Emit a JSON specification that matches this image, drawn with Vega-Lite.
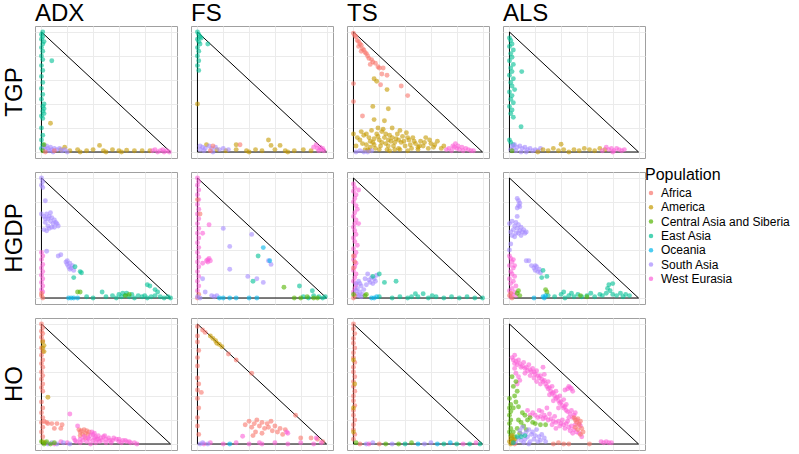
{
"$schema": "https://vega.github.io/schema/vega-lite/v6.json",
"padding": {"left": 2, "top": 2, "right": 0, "bottom": 0},
"background": "white",
"datasets": {"pops": [
{"p":"AF","Population":"Africa"},{"p":"AM","Population":"America"},{"p":"CA","Population":"Central Asia and Siberia"},{"p":"EA","Population":"East Asia"},{"p":"OC","Population":"Oceania"},{"p":"SA","Population":"South Asia"},{"p":"WE","Population":"West Eurasia"}]},
"data": {"values": [
{"c":"ADX","r":"TGP","t":1,"x":0,"y":0,"x2":1,"y2":0},{"c":"ADX","r":"TGP","t":1,"x":0,"y":0,"x2":0,"y2":1},{"c":"ADX","r":"TGP","t":1,"x":1,"y":0,"x2":0,"y2":1},
{"c":"FS","r":"TGP","t":1,"x":0,"y":0,"x2":1,"y2":0},{"c":"FS","r":"TGP","t":1,"x":0,"y":0,"x2":0,"y2":1},{"c":"FS","r":"TGP","t":1,"x":1,"y":0,"x2":0,"y2":1},
{"c":"TS","r":"TGP","t":1,"x":0,"y":0,"x2":1,"y2":0},{"c":"TS","r":"TGP","t":1,"x":0,"y":0,"x2":0,"y2":1},{"c":"TS","r":"TGP","t":1,"x":1,"y":0,"x2":0,"y2":1},
{"c":"ALS","r":"TGP","t":1,"x":0,"y":0,"x2":1,"y2":0},{"c":"ALS","r":"TGP","t":1,"x":0,"y":0,"x2":0,"y2":1},{"c":"ALS","r":"TGP","t":1,"x":1,"y":0,"x2":0,"y2":1},
{"c":"ADX","r":"HGDP","t":1,"x":0,"y":0,"x2":1,"y2":0},{"c":"ADX","r":"HGDP","t":1,"x":0,"y":0,"x2":0,"y2":1},{"c":"ADX","r":"HGDP","t":1,"x":1,"y":0,"x2":0,"y2":1},
{"c":"FS","r":"HGDP","t":1,"x":0,"y":0,"x2":1,"y2":0},{"c":"FS","r":"HGDP","t":1,"x":0,"y":0,"x2":0,"y2":1},{"c":"FS","r":"HGDP","t":1,"x":1,"y":0,"x2":0,"y2":1},
{"c":"TS","r":"HGDP","t":1,"x":0,"y":0,"x2":1,"y2":0},{"c":"TS","r":"HGDP","t":1,"x":0,"y":0,"x2":0,"y2":1},{"c":"TS","r":"HGDP","t":1,"x":1,"y":0,"x2":0,"y2":1},
{"c":"ALS","r":"HGDP","t":1,"x":0,"y":0,"x2":1,"y2":0},{"c":"ALS","r":"HGDP","t":1,"x":0,"y":0,"x2":0,"y2":1},{"c":"ALS","r":"HGDP","t":1,"x":1,"y":0,"x2":0,"y2":1},
{"c":"ADX","r":"HO","t":1,"x":0,"y":0,"x2":1,"y2":0},{"c":"ADX","r":"HO","t":1,"x":0,"y":0,"x2":0,"y2":1},{"c":"ADX","r":"HO","t":1,"x":1,"y":0,"x2":0,"y2":1},
{"c":"FS","r":"HO","t":1,"x":0,"y":0,"x2":1,"y2":0},{"c":"FS","r":"HO","t":1,"x":0,"y":0,"x2":0,"y2":1},{"c":"FS","r":"HO","t":1,"x":1,"y":0,"x2":0,"y2":1},
{"c":"TS","r":"HO","t":1,"x":0,"y":0,"x2":1,"y2":0},{"c":"TS","r":"HO","t":1,"x":0,"y":0,"x2":0,"y2":1},{"c":"TS","r":"HO","t":1,"x":1,"y":0,"x2":0,"y2":1},
{"c":"ALS","r":"HO","t":1,"x":0,"y":0,"x2":1,"y2":0},{"c":"ALS","r":"HO","t":1,"x":0,"y":0,"x2":0,"y2":1},{"c":"ALS","r":"HO","t":1,"x":1,"y":0,"x2":0,"y2":1},

{"c":"ADX","r":"TGP","p":"EA","x":0.01,"y":1},{"c":"ADX","r":"TGP","p":"EA","x":0,"y":0.98},{"c":"ADX","r":"TGP","p":"EA","x":0.01,"y":0.96},{"c":"ADX","r":"TGP","p":"EA","x":0,"y":0.94},{"c":"ADX","r":"TGP","p":"EA","x":0.02,"y":0.92},{"c":"ADX","r":"TGP","p":"EA","x":0.01,"y":0.9},{"c":"ADX","r":"TGP","p":"EA","x":0,"y":0.87},{"c":"ADX","r":"TGP","p":"EA","x":0.01,"y":0.84},{"c":"ADX","r":"TGP","p":"EA","x":0,"y":0.8},{"c":"ADX","r":"TGP","p":"EA","x":0.01,"y":0.77},{"c":"ADX","r":"TGP","p":"EA","x":0,"y":0.72},{"c":"ADX","r":"TGP","p":"EA","x":0.01,"y":0.68},{"c":"ADX","r":"TGP","p":"EA","x":0,"y":0.63},{"c":"ADX","r":"TGP","p":"EA","x":0.01,"y":0.58},{"c":"ADX","r":"TGP","p":"EA","x":0,"y":0.53},{"c":"ADX","r":"TGP","p":"EA","x":0.01,"y":0.48},{"c":"ADX","r":"TGP","p":"EA","x":0,"y":0.44},{"c":"ADX","r":"TGP","p":"EA","x":0.02,"y":0.4},{"c":"ADX","r":"TGP","p":"EA","x":0.01,"y":0.38},{"c":"ADX","r":"TGP","p":"EA","x":0.02,"y":0.36},{"c":"ADX","r":"TGP","p":"EA","x":0.01,"y":0.34},{"c":"ADX","r":"TGP","p":"EA","x":0.02,"y":0.32},{"c":"ADX","r":"TGP","p":"EA","x":0,"y":0.3},{"c":"ADX","r":"TGP","p":"EA","x":0.01,"y":0.28},{"c":"ADX","r":"TGP","p":"EA","x":0,"y":0.2},{"c":"ADX","r":"TGP","p":"EA","x":0.01,"y":0.14},{"c":"ADX","r":"TGP","p":"EA","x":0,"y":0.1},{"c":"ADX","r":"TGP","p":"EA","x":0.01,"y":0.06},{"c":"ADX","r":"TGP","p":"EA","x":0,"y":0.03},{"c":"ADX","r":"TGP","p":"EA","x":0.08,"y":0.76},
{"c":"ADX","r":"TGP","p":"AM","x":0.07,"y":0.24},{"c":"ADX","r":"TGP","p":"AM","x":0.45,"y":0.055},{"c":"ADX","r":"TGP","p":"AM","x":0.15,"y":0.02},{"c":"ADX","r":"TGP","p":"AM","x":0.22,"y":0.01},{"c":"ADX","r":"TGP","p":"AM","x":0.28,"y":0.02},{"c":"ADX","r":"TGP","p":"AM","x":0.35,"y":0.01},{"c":"ADX","r":"TGP","p":"AM","x":0.4,"y":0.02},{"c":"ADX","r":"TGP","p":"AM","x":0.48,"y":0.01},{"c":"ADX","r":"TGP","p":"AM","x":0.55,"y":0.02},{"c":"ADX","r":"TGP","p":"AM","x":0.6,"y":0.01},{"c":"ADX","r":"TGP","p":"AM","x":0.66,"y":0.015},{"c":"ADX","r":"TGP","p":"AM","x":0.72,"y":0.01},{"c":"ADX","r":"TGP","p":"AM","x":0.78,"y":0.01},{"c":"ADX","r":"TGP","p":"AM","x":0.84,"y":0.01},{"c":"ADX","r":"TGP","p":"AM","x":0.3,"y":0},{"c":"ADX","r":"TGP","p":"AM","x":0.5,"y":0},{"c":"ADX","r":"TGP","p":"AM","x":0.62,"y":0},{"c":"ADX","r":"TGP","p":"AM","x":0.18,"y":0.04},
{"c":"ADX","r":"TGP","p":"SA","x":0.02,"y":0.04},{"c":"ADX","r":"TGP","p":"SA","x":0.04,"y":0.05},{"c":"ADX","r":"TGP","p":"SA","x":0.05,"y":0.03},{"c":"ADX","r":"TGP","p":"SA","x":0.07,"y":0.04},{"c":"ADX","r":"TGP","p":"SA","x":0.08,"y":0.02},{"c":"ADX","r":"TGP","p":"SA","x":0.1,"y":0.03},{"c":"ADX","r":"TGP","p":"SA","x":0.12,"y":0.02},{"c":"ADX","r":"TGP","p":"SA","x":0.14,"y":0.03},{"c":"ADX","r":"TGP","p":"SA","x":0.16,"y":0.01},{"c":"ADX","r":"TGP","p":"SA","x":0.18,"y":0.02},{"c":"ADX","r":"TGP","p":"SA","x":0.03,"y":0.02},{"c":"ADX","r":"TGP","p":"SA","x":0.06,"y":0.01},{"c":"ADX","r":"TGP","p":"SA","x":0.2,"y":0},{"c":"ADX","r":"TGP","p":"SA","x":0.09,"y":0},
{"c":"ADX","r":"TGP","p":"WE","x":0.86,"y":0.01},{"c":"ADX","r":"TGP","p":"WE","x":0.88,"y":0.02},{"c":"ADX","r":"TGP","p":"WE","x":0.9,"y":0},{"c":"ADX","r":"TGP","p":"WE","x":0.92,"y":0.01},{"c":"ADX","r":"TGP","p":"WE","x":0.94,"y":0.02},{"c":"ADX","r":"TGP","p":"WE","x":0.95,"y":0},{"c":"ADX","r":"TGP","p":"WE","x":0.97,"y":0.01},{"c":"ADX","r":"TGP","p":"WE","x":0.99,"y":0},
{"c":"ADX","r":"TGP","p":"CA","x":0.01,"y":0.01},{"c":"ADX","r":"TGP","p":"CA","x":0.02,"y":0.06},{"c":"ADX","r":"TGP","p":"AF","x":0.03,"y":0},{"c":"ADX","r":"TGP","p":"AF","x":0.1,"y":0.01},

{"c":"FS","r":"TGP","p":"EA","x":0,"y":1},{"c":"FS","r":"TGP","p":"EA","x":0.01,"y":0.98},{"c":"FS","r":"TGP","p":"EA","x":0.02,"y":0.96},{"c":"FS","r":"TGP","p":"EA","x":0,"y":0.94},{"c":"FS","r":"TGP","p":"EA","x":0.01,"y":0.92},{"c":"FS","r":"TGP","p":"EA","x":0.02,"y":0.9},{"c":"FS","r":"TGP","p":"EA","x":0,"y":0.87},{"c":"FS","r":"TGP","p":"EA","x":0.01,"y":0.84},{"c":"FS","r":"TGP","p":"EA","x":0,"y":0.8},{"c":"FS","r":"TGP","p":"EA","x":0.01,"y":0.76},{"c":"FS","r":"TGP","p":"EA","x":0,"y":0.72},{"c":"FS","r":"TGP","p":"EA","x":0.01,"y":0.68},{"c":"FS","r":"TGP","p":"EA","x":0.08,"y":0.9},{"c":"FS","r":"TGP","p":"EA","x":0.03,"y":0.95},
{"c":"FS","r":"TGP","p":"AM","x":0,"y":0.4},{"c":"FS","r":"TGP","p":"AM","x":0.55,"y":0.1},{"c":"FS","r":"TGP","p":"AM","x":0.57,"y":0.055},{"c":"FS","r":"TGP","p":"AM","x":0.64,"y":0.055},{"c":"FS","r":"TGP","p":"AM","x":0.3,"y":0.06},{"c":"FS","r":"TGP","p":"AM","x":0.07,"y":0.06},{"c":"FS","r":"TGP","p":"AM","x":0.15,"y":0.02},{"c":"FS","r":"TGP","p":"AM","x":0.22,"y":0.01},{"c":"FS","r":"TGP","p":"AM","x":0.3,"y":0.02},{"c":"FS","r":"TGP","p":"AM","x":0.38,"y":0.01},{"c":"FS","r":"TGP","p":"AM","x":0.45,"y":0.02},{"c":"FS","r":"TGP","p":"AM","x":0.5,"y":0.01},{"c":"FS","r":"TGP","p":"AM","x":0.6,"y":0.02},{"c":"FS","r":"TGP","p":"AM","x":0.68,"y":0.01},{"c":"FS","r":"TGP","p":"AM","x":0.75,"y":0.01},{"c":"FS","r":"TGP","p":"AM","x":0.82,"y":0.02},{"c":"FS","r":"TGP","p":"AM","x":0.88,"y":0.01},{"c":"FS","r":"TGP","p":"AM","x":0.4,"y":0},{"c":"FS","r":"TGP","p":"AM","x":0.7,"y":0},
{"c":"FS","r":"TGP","p":"SA","x":0.02,"y":0.05},{"c":"FS","r":"TGP","p":"SA","x":0.04,"y":0.04},{"c":"FS","r":"TGP","p":"SA","x":0.06,"y":0.03},{"c":"FS","r":"TGP","p":"SA","x":0.09,"y":0.05},{"c":"FS","r":"TGP","p":"SA","x":0.11,"y":0.03},{"c":"FS","r":"TGP","p":"SA","x":0.14,"y":0.04},{"c":"FS","r":"TGP","p":"SA","x":0.17,"y":0.02},{"c":"FS","r":"TGP","p":"SA","x":0.2,"y":0.03},{"c":"FS","r":"TGP","p":"SA","x":0.24,"y":0.02},{"c":"FS","r":"TGP","p":"SA","x":0.05,"y":0.01},{"c":"FS","r":"TGP","p":"SA","x":0.12,"y":0},{"c":"FS","r":"TGP","p":"SA","x":0.02,"y":0.02},
{"c":"FS","r":"TGP","p":"AF","x":0.12,"y":0.05},{"c":"FS","r":"TGP","p":"AF","x":0.33,"y":0.06},{"c":"FS","r":"TGP","p":"AF","x":0.1,"y":0.01},
{"c":"FS","r":"TGP","p":"WE","x":0.9,"y":0.04},{"c":"FS","r":"TGP","p":"WE","x":0.92,"y":0.06},{"c":"FS","r":"TGP","p":"WE","x":0.93,"y":0.03},{"c":"FS","r":"TGP","p":"WE","x":0.95,"y":0.04},{"c":"FS","r":"TGP","p":"WE","x":0.96,"y":0.02},{"c":"FS","r":"TGP","p":"WE","x":0.97,"y":0.03},{"c":"FS","r":"TGP","p":"WE","x":0.98,"y":0.01},{"c":"FS","r":"TGP","p":"WE","x":0.94,"y":0.01},

{"c":"TS","r":"TGP","p":"AF","x":0,"y":0.99},{"c":"TS","r":"TGP","p":"AF","x":0.01,"y":0.97},{"c":"TS","r":"TGP","p":"AF","x":0.02,"y":0.96},{"c":"TS","r":"TGP","p":"AF","x":0.03,"y":0.93},{"c":"TS","r":"TGP","p":"AF","x":0.04,"y":0.92},{"c":"TS","r":"TGP","p":"AF","x":0.05,"y":0.9},{"c":"TS","r":"TGP","p":"AF","x":0.06,"y":0.89},{"c":"TS","r":"TGP","p":"AF","x":0.04,"y":0.88},{"c":"TS","r":"TGP","p":"AF","x":0.07,"y":0.86},{"c":"TS","r":"TGP","p":"AF","x":0.08,"y":0.85},{"c":"TS","r":"TGP","p":"AF","x":0.09,"y":0.83},{"c":"TS","r":"TGP","p":"AF","x":0.1,"y":0.82},{"c":"TS","r":"TGP","p":"AF","x":0.11,"y":0.8},{"c":"TS","r":"TGP","p":"AF","x":0.12,"y":0.78},{"c":"TS","r":"TGP","p":"AF","x":0.14,"y":0.77},{"c":"TS","r":"TGP","p":"AF","x":0.15,"y":0.75},{"c":"TS","r":"TGP","p":"AF","x":0.17,"y":0.74},{"c":"TS","r":"TGP","p":"AF","x":0.19,"y":0.71},{"c":"TS","r":"TGP","p":"AF","x":0.2,"y":0.7},{"c":"TS","r":"TGP","p":"AF","x":0.23,"y":0.7},{"c":"TS","r":"TGP","p":"AF","x":0.26,"y":0.64},{"c":"TS","r":"TGP","p":"AF","x":0.21,"y":0.56},{"c":"TS","r":"TGP","p":"AF","x":0.37,"y":0.55},{"c":"TS","r":"TGP","p":"AF","x":0.42,"y":0.47},{"c":"TS","r":"TGP","p":"AF","x":0,"y":0.57},{"c":"TS","r":"TGP","p":"AF","x":0,"y":0.42},{"c":"TS","r":"TGP","p":"AF","x":0.07,"y":0.3},{"c":"TS","r":"TGP","p":"AF","x":0.06,"y":0.84},{"c":"TS","r":"TGP","p":"AF","x":0.13,"y":0.73},{"c":"TS","r":"TGP","p":"AF","x":0.22,"y":0.65},
{"c":"TS","r":"TGP","p":"AM","x":0.16,"y":0.61},{"c":"TS","r":"TGP","p":"AM","x":0.18,"y":0.59},{"c":"TS","r":"TGP","p":"AM","x":0.26,"y":0.52},{"c":"TS","r":"TGP","p":"AM","x":0.15,"y":0.38},{"c":"TS","r":"TGP","p":"AM","x":0.27,"y":0.36},{"c":"TS","r":"TGP","p":"AM","x":0.16,"y":0.27},{"c":"TS","r":"TGP","p":"AM","x":0.24,"y":0.26},{"c":"TS","r":"TGP","p":"AM","x":0.06,"y":0.17},{"c":"TS","r":"TGP","p":"AM","x":0,"y":0.15},{"c":"TS","r":"TGP","p":"AM","x":0.05,"y":0.1},{"c":"TS","r":"TGP","p":"AM","x":0.08,"y":0.14},{"c":"TS","r":"TGP","p":"AM","x":0.1,"y":0.06},{"c":"TS","r":"TGP","p":"AM","x":0.12,"y":0.12},{"c":"TS","r":"TGP","p":"AM","x":0.14,"y":0.18},{"c":"TS","r":"TGP","p":"AM","x":0.15,"y":0.08},{"c":"TS","r":"TGP","p":"AM","x":0.17,"y":0.03},{"c":"TS","r":"TGP","p":"AM","x":0.18,"y":0.15},{"c":"TS","r":"TGP","p":"AM","x":0.2,"y":0.1},{"c":"TS","r":"TGP","p":"AM","x":0.21,"y":0.05},{"c":"TS","r":"TGP","p":"AM","x":0.22,"y":0.17},{"c":"TS","r":"TGP","p":"AM","x":0.24,"y":0.12},{"c":"TS","r":"TGP","p":"AM","x":0.25,"y":0.07},{"c":"TS","r":"TGP","p":"AM","x":0.26,"y":0.02},{"c":"TS","r":"TGP","p":"AM","x":0.28,"y":0.14},{"c":"TS","r":"TGP","p":"AM","x":0.29,"y":0.09},{"c":"TS","r":"TGP","p":"AM","x":0.3,"y":0.2},{"c":"TS","r":"TGP","p":"AM","x":0.31,"y":0.05},{"c":"TS","r":"TGP","p":"AM","x":0.33,"y":0.11},{"c":"TS","r":"TGP","p":"AM","x":0.34,"y":0.15},{"c":"TS","r":"TGP","p":"AM","x":0.35,"y":0.03},{"c":"TS","r":"TGP","p":"AM","x":0.37,"y":0.08},{"c":"TS","r":"TGP","p":"AM","x":0.38,"y":0.13},{"c":"TS","r":"TGP","p":"AM","x":0.4,"y":0.05},{"c":"TS","r":"TGP","p":"AM","x":0.41,"y":0.16},{"c":"TS","r":"TGP","p":"AM","x":0.43,"y":0.1},{"c":"TS","r":"TGP","p":"AM","x":0.45,"y":0.03},{"c":"TS","r":"TGP","p":"AM","x":0.46,"y":0.12},{"c":"TS","r":"TGP","p":"AM","x":0.48,"y":0.07},{"c":"TS","r":"TGP","p":"AM","x":0.5,"y":0.02},{"c":"TS","r":"TGP","p":"AM","x":0.52,"y":0.09},{"c":"TS","r":"TGP","p":"AM","x":0.54,"y":0.05},{"c":"TS","r":"TGP","p":"AM","x":0.56,"y":0.12},{"c":"TS","r":"TGP","p":"AM","x":0.58,"y":0.03},{"c":"TS","r":"TGP","p":"AM","x":0.6,"y":0.07},{"c":"TS","r":"TGP","p":"AM","x":0.62,"y":0.04},{"c":"TS","r":"TGP","p":"AM","x":0.65,"y":0.09},{"c":"TS","r":"TGP","p":"AM","x":0.68,"y":0.03},{"c":"TS","r":"TGP","p":"AM","x":0.7,"y":0.05},{"c":"TS","r":"TGP","p":"AM","x":0.02,"y":0.05},{"c":"TS","r":"TGP","p":"AM","x":0.03,"y":0.12},{"c":"TS","r":"TGP","p":"AM","x":0.11,"y":0.02},{"c":"TS","r":"TGP","p":"AM","x":0.19,"y":0.2},{"c":"TS","r":"TGP","p":"AM","x":0.23,"y":0.19},{"c":"TS","r":"TGP","p":"AM","x":0.27,"y":0.1},{"c":"TS","r":"TGP","p":"AM","x":0.32,"y":0.02},{"c":"TS","r":"TGP","p":"AM","x":0.36,"y":0.18},{"c":"TS","r":"TGP","p":"AM","x":0.42,"y":0.01},{"c":"TS","r":"TGP","p":"AM","x":0.13,"y":0.04},{"c":"TS","r":"TGP","p":"AM","x":0.16,"y":0.11},{"c":"TS","r":"TGP","p":"AM","x":0.09,"y":0.02},
{"c":"TS","r":"TGP","p":"AM","x":0.07,"y":0.07},{"c":"TS","r":"TGP","p":"AM","x":0.1,"y":0.15},{"c":"TS","r":"TGP","p":"AM","x":0.13,"y":0.09},{"c":"TS","r":"TGP","p":"AM","x":0.16,"y":0.06},{"c":"TS","r":"TGP","p":"AM","x":0.19,"y":0.13},{"c":"TS","r":"TGP","p":"AM","x":0.22,"y":0.08},{"c":"TS","r":"TGP","p":"AM","x":0.25,"y":0.15},{"c":"TS","r":"TGP","p":"AM","x":0.27,"y":0.05},{"c":"TS","r":"TGP","p":"AM","x":0.3,"y":0.12},{"c":"TS","r":"TGP","p":"AM","x":0.32,"y":0.08},{"c":"TS","r":"TGP","p":"AM","x":0.35,"y":0.1},{"c":"TS","r":"TGP","p":"AM","x":0.39,"y":0.09},{"c":"TS","r":"TGP","p":"AM","x":0.42,"y":0.12},{"c":"TS","r":"TGP","p":"AM","x":0.44,"y":0.06},{"c":"TS","r":"TGP","p":"AM","x":0.47,"y":0.09},{"c":"TS","r":"TGP","p":"AM","x":0.51,"y":0.05},{"c":"TS","r":"TGP","p":"AM","x":0.55,"y":0.08},{"c":"TS","r":"TGP","p":"AM","x":0.59,"y":0.1},{"c":"TS","r":"TGP","p":"AM","x":0.63,"y":0.06},{"c":"TS","r":"TGP","p":"AM","x":0.12,"y":0.01},{"c":"TS","r":"TGP","p":"AM","x":0.2,"y":0.02},{"c":"TS","r":"TGP","p":"AM","x":0.28,"y":0.01},{"c":"TS","r":"TGP","p":"AM","x":0.36,"y":0.02},{"c":"TS","r":"TGP","p":"AM","x":0.5,"y":0.04},
{"c":"TS","r":"TGP","p":"WE","x":0.72,"y":0.02},{"c":"TS","r":"TGP","p":"WE","x":0.74,"y":0.03},{"c":"TS","r":"TGP","p":"WE","x":0.76,"y":0.01},{"c":"TS","r":"TGP","p":"WE","x":0.78,"y":0.04},{"c":"TS","r":"TGP","p":"WE","x":0.79,"y":0.07},{"c":"TS","r":"TGP","p":"WE","x":0.8,"y":0.03},{"c":"TS","r":"TGP","p":"WE","x":0.82,"y":0.02},{"c":"TS","r":"TGP","p":"WE","x":0.84,"y":0.04},{"c":"TS","r":"TGP","p":"WE","x":0.85,"y":0.01},{"c":"TS","r":"TGP","p":"WE","x":0.87,"y":0.03},{"c":"TS","r":"TGP","p":"WE","x":0.89,"y":0.02},{"c":"TS","r":"TGP","p":"WE","x":0.91,"y":0.01},{"c":"TS","r":"TGP","p":"WE","x":0.93,"y":0.01},{"c":"TS","r":"TGP","p":"WE","x":0.81,"y":0.05},{"c":"TS","r":"TGP","p":"WE","x":0.77,"y":0.05},
{"c":"TS","r":"TGP","p":"SA","x":0.02,"y":0},{"c":"TS","r":"TGP","p":"SA","x":0.05,"y":0.01},{"c":"TS","r":"TGP","p":"SA","x":0.08,"y":0},{"c":"TS","r":"TGP","p":"SA","x":0.11,"y":0},{"c":"TS","r":"TGP","p":"SA","x":0.14,"y":0.01},

{"c":"ALS","r":"TGP","p":"EA","x":0,"y":0.95},{"c":"ALS","r":"TGP","p":"EA","x":0.01,"y":0.93},{"c":"ALS","r":"TGP","p":"EA","x":0.02,"y":0.9},{"c":"ALS","r":"TGP","p":"EA","x":0,"y":0.88},{"c":"ALS","r":"TGP","p":"EA","x":0.03,"y":0.85},{"c":"ALS","r":"TGP","p":"EA","x":0.01,"y":0.82},{"c":"ALS","r":"TGP","p":"EA","x":0.02,"y":0.79},{"c":"ALS","r":"TGP","p":"EA","x":0,"y":0.76},{"c":"ALS","r":"TGP","p":"EA","x":0.03,"y":0.73},{"c":"ALS","r":"TGP","p":"EA","x":0.01,"y":0.7},{"c":"ALS","r":"TGP","p":"EA","x":0.02,"y":0.67},{"c":"ALS","r":"TGP","p":"EA","x":0,"y":0.64},{"c":"ALS","r":"TGP","p":"EA","x":0.03,"y":0.61},{"c":"ALS","r":"TGP","p":"EA","x":0.01,"y":0.58},{"c":"ALS","r":"TGP","p":"EA","x":0.02,"y":0.55},{"c":"ALS","r":"TGP","p":"EA","x":0.04,"y":0.52},{"c":"ALS","r":"TGP","p":"EA","x":0,"y":0.5},{"c":"ALS","r":"TGP","p":"EA","x":0.02,"y":0.47},{"c":"ALS","r":"TGP","p":"EA","x":0.01,"y":0.44},{"c":"ALS","r":"TGP","p":"EA","x":0.03,"y":0.41},{"c":"ALS","r":"TGP","p":"EA","x":0,"y":0.38},{"c":"ALS","r":"TGP","p":"EA","x":0.02,"y":0.35},{"c":"ALS","r":"TGP","p":"EA","x":0.01,"y":0.32},{"c":"ALS","r":"TGP","p":"EA","x":0.03,"y":0.29},{"c":"ALS","r":"TGP","p":"EA","x":0.095,"y":0.67},{"c":"ALS","r":"TGP","p":"EA","x":0.09,"y":0.21},{"c":"ALS","r":"TGP","p":"EA","x":0.01,"y":0.08},{"c":"ALS","r":"TGP","p":"EA","x":0.03,"y":0.06},{"c":"ALS","r":"TGP","p":"EA","x":0,"y":0.1},
{"c":"ALS","r":"TGP","p":"SA","x":0.02,"y":0.05},{"c":"ALS","r":"TGP","p":"SA","x":0.04,"y":0.06},{"c":"ALS","r":"TGP","p":"SA","x":0.06,"y":0.04},{"c":"ALS","r":"TGP","p":"SA","x":0.08,"y":0.05},{"c":"ALS","r":"TGP","p":"SA","x":0.1,"y":0.03},{"c":"ALS","r":"TGP","p":"SA","x":0.12,"y":0.04},{"c":"ALS","r":"TGP","p":"SA","x":0.14,"y":0.02},{"c":"ALS","r":"TGP","p":"SA","x":0.16,"y":0.03},{"c":"ALS","r":"TGP","p":"SA","x":0.18,"y":0.01},{"c":"ALS","r":"TGP","p":"SA","x":0.2,"y":0.02},{"c":"ALS","r":"TGP","p":"SA","x":0.22,"y":0.01},{"c":"ALS","r":"TGP","p":"SA","x":0.24,"y":0.03},{"c":"ALS","r":"TGP","p":"SA","x":0.05,"y":0.01},{"c":"ALS","r":"TGP","p":"SA","x":0.09,"y":0},{"c":"ALS","r":"TGP","p":"SA","x":0.13,"y":0},{"c":"ALS","r":"TGP","p":"SA","x":0.01,"y":0.02},{"c":"ALS","r":"TGP","p":"SA","x":0.03,"y":0.03},
{"c":"ALS","r":"TGP","p":"AM","x":0.4,"y":0.065},{"c":"ALS","r":"TGP","p":"AM","x":0.22,"y":0},{"c":"ALS","r":"TGP","p":"AM","x":0.26,"y":0.02},{"c":"ALS","r":"TGP","p":"AM","x":0.3,"y":0.01},{"c":"ALS","r":"TGP","p":"AM","x":0.34,"y":0.03},{"c":"ALS","r":"TGP","p":"AM","x":0.38,"y":0.01},{"c":"ALS","r":"TGP","p":"AM","x":0.42,"y":0.02},{"c":"ALS","r":"TGP","p":"AM","x":0.46,"y":0},{"c":"ALS","r":"TGP","p":"AM","x":0.5,"y":0.02},{"c":"ALS","r":"TGP","p":"AM","x":0.54,"y":0.01},{"c":"ALS","r":"TGP","p":"AM","x":0.58,"y":0.03},{"c":"ALS","r":"TGP","p":"AM","x":0.62,"y":0.02},{"c":"ALS","r":"TGP","p":"AM","x":0.66,"y":0.01},{"c":"ALS","r":"TGP","p":"AM","x":0.7,"y":0.03},{"c":"ALS","r":"TGP","p":"AM","x":0.74,"y":0.02},
{"c":"ALS","r":"TGP","p":"WE","x":0.72,"y":0.01},{"c":"ALS","r":"TGP","p":"WE","x":0.75,"y":0.04},{"c":"ALS","r":"TGP","p":"WE","x":0.77,"y":0.02},{"c":"ALS","r":"TGP","p":"WE","x":0.79,"y":0.03},{"c":"ALS","r":"TGP","p":"WE","x":0.81,"y":0.01},{"c":"ALS","r":"TGP","p":"WE","x":0.83,"y":0.03},{"c":"ALS","r":"TGP","p":"WE","x":0.85,"y":0.02},{"c":"ALS","r":"TGP","p":"WE","x":0.87,"y":0.01},{"c":"ALS","r":"TGP","p":"WE","x":0.89,"y":0.02},{"c":"ALS","r":"TGP","p":"WE","x":0.8,"y":0},{"c":"ALS","r":"TGP","p":"CA","x":0.02,"y":0.01},

{"c":"ADX","r":"HGDP","p":"SA","x":0,"y":1},{"c":"ADX","r":"HGDP","p":"SA","x":0.01,"y":0.97},{"c":"ADX","r":"HGDP","p":"SA","x":0,"y":0.94},{"c":"ADX","r":"HGDP","p":"SA","x":0.01,"y":0.92},{"c":"ADX","r":"HGDP","p":"SA","x":0.03,"y":0.81},{"c":"ADX","r":"HGDP","p":"SA","x":0,"y":0.7},{"c":"ADX","r":"HGDP","p":"SA","x":0.02,"y":0.68},{"c":"ADX","r":"HGDP","p":"SA","x":0.04,"y":0.7},{"c":"ADX","r":"HGDP","p":"SA","x":0.05,"y":0.66},{"c":"ADX","r":"HGDP","p":"SA","x":0.06,"y":0.68},{"c":"ADX","r":"HGDP","p":"SA","x":0.07,"y":0.64},{"c":"ADX","r":"HGDP","p":"SA","x":0.08,"y":0.67},{"c":"ADX","r":"HGDP","p":"SA","x":0.09,"y":0.62},{"c":"ADX","r":"HGDP","p":"SA","x":0.1,"y":0.65},{"c":"ADX","r":"HGDP","p":"SA","x":0.12,"y":0.62},{"c":"ADX","r":"HGDP","p":"SA","x":0.13,"y":0.6},{"c":"ADX","r":"HGDP","p":"SA","x":0.03,"y":0.63},{"c":"ADX","r":"HGDP","p":"SA","x":0.05,"y":0.6},{"c":"ADX","r":"HGDP","p":"SA","x":0.06,"y":0.58},{"c":"ADX","r":"HGDP","p":"SA","x":0.08,"y":0.59},{"c":"ADX","r":"HGDP","p":"SA","x":0.02,"y":0.57},{"c":"ADX","r":"HGDP","p":"SA","x":0.04,"y":0.56},{"c":"ADX","r":"HGDP","p":"SA","x":0.07,"y":0.71},{"c":"ADX","r":"HGDP","p":"SA","x":0.1,"y":0.59},{"c":"ADX","r":"HGDP","p":"SA","x":0.11,"y":0.63},{"c":"ADX","r":"HGDP","p":"SA","x":0.03,"y":0.66},{"c":"ADX","r":"HGDP","p":"SA","x":0.04,"y":0.39},{"c":"ADX","r":"HGDP","p":"SA","x":0.13,"y":0.35},{"c":"ADX","r":"HGDP","p":"SA","x":0.15,"y":0.36},{"c":"ADX","r":"HGDP","p":"SA","x":0.19,"y":0.3},{"c":"ADX","r":"HGDP","p":"SA","x":0.2,"y":0.28},{"c":"ADX","r":"HGDP","p":"SA","x":0.21,"y":0.26},{"c":"ADX","r":"HGDP","p":"SA","x":0.22,"y":0.29},{"c":"ADX","r":"HGDP","p":"SA","x":0.23,"y":0.25},{"c":"ADX","r":"HGDP","p":"SA","x":0.24,"y":0.27},{"c":"ADX","r":"HGDP","p":"SA","x":0.25,"y":0.23},{"c":"ADX","r":"HGDP","p":"SA","x":0.22,"y":0.24},{"c":"ADX","r":"HGDP","p":"SA","x":0.2,"y":0.31},
{"c":"ADX","r":"HGDP","p":"EA","x":0.26,"y":0.26},{"c":"ADX","r":"HGDP","p":"EA","x":0.31,"y":0.21},{"c":"ADX","r":"HGDP","p":"EA","x":0.3,"y":0.22},{"c":"ADX","r":"HGDP","p":"EA","x":0.25,"y":0.17},{"c":"ADX","r":"HGDP","p":"EA","x":0.82,"y":0.11},{"c":"ADX","r":"HGDP","p":"EA","x":0.84,"y":0.1},{"c":"ADX","r":"HGDP","p":"EA","x":0.88,"y":0.07},{"c":"ADX","r":"HGDP","p":"EA","x":0.9,"y":0.05},{"c":"ADX","r":"HGDP","p":"EA","x":0.47,"y":0.05},{"c":"ADX","r":"HGDP","p":"EA","x":0.35,"y":0.01},{"c":"ADX","r":"HGDP","p":"EA","x":0.4,"y":0},{"c":"ADX","r":"HGDP","p":"EA","x":0.5,"y":0.01},{"c":"ADX","r":"HGDP","p":"EA","x":0.55,"y":0.02},{"c":"ADX","r":"HGDP","p":"EA","x":0.58,"y":0},{"c":"ADX","r":"HGDP","p":"EA","x":0.6,"y":0.03},{"c":"ADX","r":"HGDP","p":"EA","x":0.62,"y":0.01},{"c":"ADX","r":"HGDP","p":"EA","x":0.65,"y":0.02},{"c":"ADX","r":"HGDP","p":"EA","x":0.68,"y":0.01},{"c":"ADX","r":"HGDP","p":"EA","x":0.7,"y":0.03},{"c":"ADX","r":"HGDP","p":"EA","x":0.72,"y":0},{"c":"ADX","r":"HGDP","p":"EA","x":0.75,"y":0.02},{"c":"ADX","r":"HGDP","p":"EA","x":0.78,"y":0.01},{"c":"ADX","r":"HGDP","p":"EA","x":0.8,"y":0.02},{"c":"ADX","r":"HGDP","p":"EA","x":0.82,"y":0},{"c":"ADX","r":"HGDP","p":"EA","x":0.85,"y":0.01},{"c":"ADX","r":"HGDP","p":"EA","x":0.88,"y":0.02},{"c":"ADX","r":"HGDP","p":"EA","x":0.92,"y":0.01},{"c":"ADX","r":"HGDP","p":"EA","x":0.95,"y":0},{"c":"ADX","r":"HGDP","p":"EA","x":0.98,"y":0.01},{"c":"ADX","r":"HGDP","p":"EA","x":1,"y":0},{"c":"ADX","r":"HGDP","p":"EA","x":0.63,"y":0.04},{"c":"ADX","r":"HGDP","p":"EA","x":0.66,"y":0.04},
{"c":"ADX","r":"HGDP","p":"CA","x":0.28,"y":0.05},{"c":"ADX","r":"HGDP","p":"CA","x":0.3,"y":0.05},{"c":"ADX","r":"HGDP","p":"CA","x":0.65,"y":0.02},{"c":"ADX","r":"HGDP","p":"CA","x":0.68,"y":0.03},
{"c":"ADX","r":"HGDP","p":"OC","x":0.21,"y":0},{"c":"ADX","r":"HGDP","p":"OC","x":0.23,"y":0},{"c":"ADX","r":"HGDP","p":"OC","x":0.25,"y":0},{"c":"ADX","r":"HGDP","p":"OC","x":0.28,"y":0},
{"c":"ADX","r":"HGDP","p":"WE","x":0,"y":0.38},{"c":"ADX","r":"HGDP","p":"WE","x":0.01,"y":0.35},{"c":"ADX","r":"HGDP","p":"WE","x":0,"y":0.32},{"c":"ADX","r":"HGDP","p":"WE","x":0.01,"y":0.28},{"c":"ADX","r":"HGDP","p":"WE","x":0,"y":0.25},{"c":"ADX","r":"HGDP","p":"WE","x":0.01,"y":0.22},{"c":"ADX","r":"HGDP","p":"WE","x":0,"y":0.19},{"c":"ADX","r":"HGDP","p":"WE","x":0.01,"y":0.16},{"c":"ADX","r":"HGDP","p":"WE","x":0,"y":0.13},{"c":"ADX","r":"HGDP","p":"WE","x":0.01,"y":0.1},{"c":"ADX","r":"HGDP","p":"WE","x":0,"y":0.07},{"c":"ADX","r":"HGDP","p":"WE","x":0.01,"y":0.05},
{"c":"ADX","r":"HGDP","p":"AF","x":0,"y":0.02},{"c":"ADX","r":"HGDP","p":"AF","x":0.01,"y":0},{"c":"ADX","r":"HGDP","p":"AF","x":0,"y":0.04},

{"c":"FS","r":"HGDP","p":"WE","x":0,"y":1},{"c":"FS","r":"HGDP","p":"WE","x":0.01,"y":0.97},{"c":"FS","r":"HGDP","p":"WE","x":0,"y":0.94},{"c":"FS","r":"HGDP","p":"WE","x":0.01,"y":0.9},{"c":"FS","r":"HGDP","p":"WE","x":0,"y":0.86},{"c":"FS","r":"HGDP","p":"WE","x":0.01,"y":0.82},{"c":"FS","r":"HGDP","p":"WE","x":0,"y":0.78},{"c":"FS","r":"HGDP","p":"WE","x":0.01,"y":0.74},{"c":"FS","r":"HGDP","p":"WE","x":0,"y":0.7},{"c":"FS","r":"HGDP","p":"WE","x":0.01,"y":0.66},{"c":"FS","r":"HGDP","p":"WE","x":0,"y":0.62},{"c":"FS","r":"HGDP","p":"WE","x":0.01,"y":0.58},{"c":"FS","r":"HGDP","p":"WE","x":0,"y":0.54},{"c":"FS","r":"HGDP","p":"WE","x":0.01,"y":0.5},{"c":"FS","r":"HGDP","p":"WE","x":0,"y":0.46},{"c":"FS","r":"HGDP","p":"WE","x":0.01,"y":0.42},{"c":"FS","r":"HGDP","p":"WE","x":0,"y":0.38},{"c":"FS","r":"HGDP","p":"WE","x":0.01,"y":0.34},{"c":"FS","r":"HGDP","p":"WE","x":0,"y":0.3},{"c":"FS","r":"HGDP","p":"WE","x":0.01,"y":0.26},{"c":"FS","r":"HGDP","p":"WE","x":0,"y":0.22},{"c":"FS","r":"HGDP","p":"WE","x":0.01,"y":0.18},{"c":"FS","r":"HGDP","p":"WE","x":0,"y":0.14},{"c":"FS","r":"HGDP","p":"WE","x":0.01,"y":0.1},{"c":"FS","r":"HGDP","p":"WE","x":0,"y":0.06},{"c":"FS","r":"HGDP","p":"WE","x":0.07,"y":0.31},{"c":"FS","r":"HGDP","p":"WE","x":0.08,"y":0.32},{"c":"FS","r":"HGDP","p":"WE","x":0.09,"y":0.33},{"c":"FS","r":"HGDP","p":"WE","x":0.1,"y":0.31},{"c":"FS","r":"HGDP","p":"WE","x":0.08,"y":0.3},{"c":"FS","r":"HGDP","p":"WE","x":0.04,"y":0.54},{"c":"FS","r":"HGDP","p":"WE","x":0.04,"y":0.29},{"c":"FS","r":"HGDP","p":"WE","x":0.09,"y":0.61},
{"c":"FS","r":"HGDP","p":"AF","x":0,"y":0.82},{"c":"FS","r":"HGDP","p":"AF","x":0.01,"y":0.03},{"c":"FS","r":"HGDP","p":"AF","x":0,"y":0},{"c":"FS","r":"HGDP","p":"AF","x":0.02,"y":0.7},
{"c":"FS","r":"HGDP","p":"SA","x":0.2,"y":0.58},{"c":"FS","r":"HGDP","p":"SA","x":0.42,"y":0.53},{"c":"FS","r":"HGDP","p":"SA","x":0.25,"y":0.43},{"c":"FS","r":"HGDP","p":"SA","x":0.25,"y":0.24},{"c":"FS","r":"HGDP","p":"SA","x":0.39,"y":0.18},{"c":"FS","r":"HGDP","p":"SA","x":0.46,"y":0.16},{"c":"FS","r":"HGDP","p":"SA","x":0.51,"y":0.13},{"c":"FS","r":"HGDP","p":"SA","x":0.55,"y":0.31},{"c":"FS","r":"HGDP","p":"SA","x":0.57,"y":0.28},{"c":"FS","r":"HGDP","p":"SA","x":0.04,"y":0.16},{"c":"FS","r":"HGDP","p":"SA","x":0.06,"y":0.05},{"c":"FS","r":"HGDP","p":"SA","x":0.11,"y":0.02},{"c":"FS","r":"HGDP","p":"SA","x":0.13,"y":0.01},{"c":"FS","r":"HGDP","p":"SA","x":0.15,"y":0.02},{"c":"FS","r":"HGDP","p":"SA","x":0,"y":0.01},{"c":"FS","r":"HGDP","p":"SA","x":0.02,"y":0},
{"c":"FS","r":"HGDP","p":"OC","x":0.51,"y":0.42},{"c":"FS","r":"HGDP","p":"OC","x":0.56,"y":0.31},{"c":"FS","r":"HGDP","p":"OC","x":0.17,"y":0},{"c":"FS","r":"HGDP","p":"OC","x":0.2,"y":0},{"c":"FS","r":"HGDP","p":"OC","x":0.25,"y":0},{"c":"FS","r":"HGDP","p":"OC","x":0.3,"y":0},{"c":"FS","r":"HGDP","p":"OC","x":0.4,"y":0},{"c":"FS","r":"HGDP","p":"OC","x":0.46,"y":0},
{"c":"FS","r":"HGDP","p":"EA","x":0.47,"y":0.35},{"c":"FS","r":"HGDP","p":"EA","x":0.43,"y":0.14},{"c":"FS","r":"HGDP","p":"EA","x":0.79,"y":0.1},{"c":"FS","r":"HGDP","p":"EA","x":0.89,"y":0.06},{"c":"FS","r":"HGDP","p":"EA","x":0.82,"y":0.01},{"c":"FS","r":"HGDP","p":"EA","x":0.86,"y":0},{"c":"FS","r":"HGDP","p":"EA","x":0.9,"y":0.02},{"c":"FS","r":"HGDP","p":"EA","x":0.94,"y":0.01},{"c":"FS","r":"HGDP","p":"EA","x":0.97,"y":0},{"c":"FS","r":"HGDP","p":"EA","x":0.99,"y":0.01},
{"c":"FS","r":"HGDP","p":"CA","x":0.67,"y":0.09},{"c":"FS","r":"HGDP","p":"CA","x":0.75,"y":0},{"c":"FS","r":"HGDP","p":"CA","x":0.8,"y":0},{"c":"FS","r":"HGDP","p":"CA","x":0.85,"y":0.01},{"c":"FS","r":"HGDP","p":"CA","x":0.9,"y":0},{"c":"FS","r":"HGDP","p":"CA","x":0.93,"y":0},

{"c":"TS","r":"HGDP","p":"WE","x":0,"y":0.95},{"c":"TS","r":"HGDP","p":"WE","x":0.01,"y":0.92},{"c":"TS","r":"HGDP","p":"WE","x":0,"y":0.89},{"c":"TS","r":"HGDP","p":"WE","x":0.02,"y":0.86},{"c":"TS","r":"HGDP","p":"WE","x":0.01,"y":0.83},{"c":"TS","r":"HGDP","p":"WE","x":0,"y":0.8},{"c":"TS","r":"HGDP","p":"WE","x":0.02,"y":0.77},{"c":"TS","r":"HGDP","p":"WE","x":0.03,"y":0.74},{"c":"TS","r":"HGDP","p":"WE","x":0.01,"y":0.71},{"c":"TS","r":"HGDP","p":"WE","x":0,"y":0.68},{"c":"TS","r":"HGDP","p":"WE","x":0.02,"y":0.65},{"c":"TS","r":"HGDP","p":"WE","x":0.01,"y":0.62},{"c":"TS","r":"HGDP","p":"WE","x":0,"y":0.59},{"c":"TS","r":"HGDP","p":"WE","x":0.01,"y":0.56},{"c":"TS","r":"HGDP","p":"WE","x":0.02,"y":0.53},{"c":"TS","r":"HGDP","p":"WE","x":0,"y":0.5},{"c":"TS","r":"HGDP","p":"WE","x":0.01,"y":0.47},{"c":"TS","r":"HGDP","p":"WE","x":0.03,"y":0.44},{"c":"TS","r":"HGDP","p":"WE","x":0,"y":0.41},{"c":"TS","r":"HGDP","p":"WE","x":0.02,"y":0.38},{"c":"TS","r":"HGDP","p":"WE","x":0.01,"y":0.35},{"c":"TS","r":"HGDP","p":"WE","x":0,"y":0.32},{"c":"TS","r":"HGDP","p":"WE","x":0.02,"y":0.29},{"c":"TS","r":"HGDP","p":"WE","x":0.01,"y":0.26},{"c":"TS","r":"HGDP","p":"WE","x":0,"y":0.23},{"c":"TS","r":"HGDP","p":"WE","x":0.02,"y":0.2},{"c":"TS","r":"HGDP","p":"WE","x":0.01,"y":0.17},{"c":"TS","r":"HGDP","p":"WE","x":0,"y":0.14},{"c":"TS","r":"HGDP","p":"WE","x":0.02,"y":0.11},{"c":"TS","r":"HGDP","p":"WE","x":0.01,"y":0.08},{"c":"TS","r":"HGDP","p":"WE","x":0,"y":0.05},{"c":"TS","r":"HGDP","p":"WE","x":0.04,"y":0.9},{"c":"TS","r":"HGDP","p":"WE","x":0.04,"y":0.62},
{"c":"TS","r":"HGDP","p":"SA","x":0.02,"y":0.12},{"c":"TS","r":"HGDP","p":"SA","x":0.03,"y":0.08},{"c":"TS","r":"HGDP","p":"SA","x":0.04,"y":0.14},{"c":"TS","r":"HGDP","p":"SA","x":0.05,"y":0.05},{"c":"TS","r":"HGDP","p":"SA","x":0.06,"y":0.1},{"c":"TS","r":"HGDP","p":"SA","x":0.07,"y":0.03},{"c":"TS","r":"HGDP","p":"SA","x":0.03,"y":0.03},{"c":"TS","r":"HGDP","p":"SA","x":0.05,"y":0.12},{"c":"TS","r":"HGDP","p":"SA","x":0.08,"y":0.07},{"c":"TS","r":"HGDP","p":"SA","x":0.06,"y":0.01},{"c":"TS","r":"HGDP","p":"SA","x":0.09,"y":0.16},{"c":"TS","r":"HGDP","p":"SA","x":0.11,"y":0.2},{"c":"TS","r":"HGDP","p":"SA","x":0.12,"y":0.15},{"c":"TS","r":"HGDP","p":"SA","x":0.13,"y":0.13},{"c":"TS","r":"HGDP","p":"SA","x":0.14,"y":0.17},{"c":"TS","r":"HGDP","p":"SA","x":0.15,"y":0.12},{"c":"TS","r":"HGDP","p":"SA","x":0.16,"y":0.16},{"c":"TS","r":"HGDP","p":"SA","x":0.17,"y":0.14},{"c":"TS","r":"HGDP","p":"SA","x":0.18,"y":0.19},{"c":"TS","r":"HGDP","p":"SA","x":0.1,"y":0.11},{"c":"TS","r":"HGDP","p":"SA","x":0.04,"y":0.02},{"c":"TS","r":"HGDP","p":"SA","x":0.02,"y":0.06},
{"c":"TS","r":"HGDP","p":"EA","x":0.15,"y":0.18},{"c":"TS","r":"HGDP","p":"EA","x":0.2,"y":0.2},{"c":"TS","r":"HGDP","p":"EA","x":0.24,"y":0.13},{"c":"TS","r":"HGDP","p":"EA","x":0.33,"y":0.14},{"c":"TS","r":"HGDP","p":"EA","x":0.48,"y":0.035},{"c":"TS","r":"HGDP","p":"EA","x":0.54,"y":0.035},{"c":"TS","r":"HGDP","p":"EA","x":0.2,"y":0.01},{"c":"TS","r":"HGDP","p":"EA","x":0.3,"y":0},{"c":"TS","r":"HGDP","p":"EA","x":0.36,"y":0.01},{"c":"TS","r":"HGDP","p":"EA","x":0.42,"y":0},{"c":"TS","r":"HGDP","p":"EA","x":0.5,"y":0.01},{"c":"TS","r":"HGDP","p":"EA","x":0.58,"y":0},{"c":"TS","r":"HGDP","p":"EA","x":0.64,"y":0.01},{"c":"TS","r":"HGDP","p":"EA","x":0.7,"y":0},{"c":"TS","r":"HGDP","p":"EA","x":0.76,"y":0.01},{"c":"TS","r":"HGDP","p":"EA","x":0.82,"y":0},{"c":"TS","r":"HGDP","p":"EA","x":0.88,"y":0.01},{"c":"TS","r":"HGDP","p":"EA","x":0.94,"y":0},{"c":"TS","r":"HGDP","p":"EA","x":1,"y":0},{"c":"TS","r":"HGDP","p":"EA","x":0.61,"y":0.02},{"c":"TS","r":"HGDP","p":"EA","x":0.45,"y":0.01},
{"c":"TS","r":"HGDP","p":"OC","x":0.14,"y":0},{"c":"TS","r":"HGDP","p":"OC","x":0.16,"y":0},{"c":"TS","r":"HGDP","p":"OC","x":0.18,"y":0.01},
{"c":"TS","r":"HGDP","p":"AF","x":0,"y":0.35},{"c":"TS","r":"HGDP","p":"AF","x":0.01,"y":0.3},{"c":"TS","r":"HGDP","p":"AF","x":0,"y":0.25},{"c":"TS","r":"HGDP","p":"AF","x":0,"y":0},{"c":"TS","r":"HGDP","p":"AF","x":0.01,"y":0.02},
{"c":"TS","r":"HGDP","p":"CA","x":0.09,"y":0.02},{"c":"TS","r":"HGDP","p":"CA","x":0.1,"y":0.03},{"c":"TS","r":"HGDP","p":"CA","x":0,"y":0.03},

{"c":"ALS","r":"HGDP","p":"SA","x":0.06,"y":0.83},{"c":"ALS","r":"HGDP","p":"SA","x":0.07,"y":0.81},{"c":"ALS","r":"HGDP","p":"SA","x":0.08,"y":0.79},{"c":"ALS","r":"HGDP","p":"SA","x":0.07,"y":0.77},{"c":"ALS","r":"HGDP","p":"SA","x":0.06,"y":0.75},{"c":"ALS","r":"HGDP","p":"SA","x":0.08,"y":0.76},{"c":"ALS","r":"HGDP","p":"SA","x":0.06,"y":0.68},{"c":"ALS","r":"HGDP","p":"SA","x":0,"y":0.62},{"c":"ALS","r":"HGDP","p":"SA","x":0.02,"y":0.64},{"c":"ALS","r":"HGDP","p":"SA","x":0.04,"y":0.6},{"c":"ALS","r":"HGDP","p":"SA","x":0.05,"y":0.63},{"c":"ALS","r":"HGDP","p":"SA","x":0.06,"y":0.58},{"c":"ALS","r":"HGDP","p":"SA","x":0.07,"y":0.61},{"c":"ALS","r":"HGDP","p":"SA","x":0.08,"y":0.56},{"c":"ALS","r":"HGDP","p":"SA","x":0.09,"y":0.59},{"c":"ALS","r":"HGDP","p":"SA","x":0.1,"y":0.55},{"c":"ALS","r":"HGDP","p":"SA","x":0.11,"y":0.57},{"c":"ALS","r":"HGDP","p":"SA","x":0.12,"y":0.54},{"c":"ALS","r":"HGDP","p":"SA","x":0.13,"y":0.55},{"c":"ALS","r":"HGDP","p":"SA","x":0.03,"y":0.57},{"c":"ALS","r":"HGDP","p":"SA","x":0.05,"y":0.54},{"c":"ALS","r":"HGDP","p":"SA","x":0.02,"y":0.52},{"c":"ALS","r":"HGDP","p":"SA","x":0.01,"y":0.55},{"c":"ALS","r":"HGDP","p":"SA","x":0.04,"y":0.51},{"c":"ALS","r":"HGDP","p":"SA","x":0.09,"y":0.52},{"c":"ALS","r":"HGDP","p":"SA","x":0.07,"y":0.54},{"c":"ALS","r":"HGDP","p":"SA","x":0,"y":0.4},{"c":"ALS","r":"HGDP","p":"SA","x":0.01,"y":0.45},{"c":"ALS","r":"HGDP","p":"SA","x":0.13,"y":0.31},{"c":"ALS","r":"HGDP","p":"SA","x":0.15,"y":0.31},{"c":"ALS","r":"HGDP","p":"SA","x":0.17,"y":0.27},{"c":"ALS","r":"HGDP","p":"SA","x":0.19,"y":0.25},{"c":"ALS","r":"HGDP","p":"SA","x":0.2,"y":0.23},{"c":"ALS","r":"HGDP","p":"SA","x":0.21,"y":0.26},{"c":"ALS","r":"HGDP","p":"SA","x":0.22,"y":0.22},{"c":"ALS","r":"HGDP","p":"SA","x":0.23,"y":0.24},{"c":"ALS","r":"HGDP","p":"SA","x":0.24,"y":0.21},{"c":"ALS","r":"HGDP","p":"SA","x":0.2,"y":0.27},
{"c":"ALS","r":"HGDP","p":"EA","x":0.26,"y":0.23},{"c":"ALS","r":"HGDP","p":"EA","x":0.25,"y":0.17},{"c":"ALS","r":"HGDP","p":"EA","x":0.29,"y":0.18},{"c":"ALS","r":"HGDP","p":"EA","x":0.3,"y":0.02},{"c":"ALS","r":"HGDP","p":"EA","x":0.35,"y":0.01},{"c":"ALS","r":"HGDP","p":"EA","x":0.4,"y":0.03},{"c":"ALS","r":"HGDP","p":"EA","x":0.43,"y":0},{"c":"ALS","r":"HGDP","p":"EA","x":0.46,"y":0.02},{"c":"ALS","r":"HGDP","p":"EA","x":0.5,"y":0.01},{"c":"ALS","r":"HGDP","p":"EA","x":0.53,"y":0.03},{"c":"ALS","r":"HGDP","p":"EA","x":0.56,"y":0.01},{"c":"ALS","r":"HGDP","p":"EA","x":0.6,"y":0.02},{"c":"ALS","r":"HGDP","p":"EA","x":0.63,"y":0.04},{"c":"ALS","r":"HGDP","p":"EA","x":0.66,"y":0.01},{"c":"ALS","r":"HGDP","p":"EA","x":0.7,"y":0.03},{"c":"ALS","r":"HGDP","p":"EA","x":0.72,"y":0.02},{"c":"ALS","r":"HGDP","p":"EA","x":0.75,"y":0.04},{"c":"ALS","r":"HGDP","p":"EA","x":0.76,"y":0.08},{"c":"ALS","r":"HGDP","p":"EA","x":0.77,"y":0.11},{"c":"ALS","r":"HGDP","p":"EA","x":0.78,"y":0.06},{"c":"ALS","r":"HGDP","p":"EA","x":0.8,"y":0.12},{"c":"ALS","r":"HGDP","p":"EA","x":0.8,"y":0.03},{"c":"ALS","r":"HGDP","p":"EA","x":0.83,"y":0.02},{"c":"ALS","r":"HGDP","p":"EA","x":0.86,"y":0.04},{"c":"ALS","r":"HGDP","p":"EA","x":0.88,"y":0.01},{"c":"ALS","r":"HGDP","p":"EA","x":0.9,"y":0.03},{"c":"ALS","r":"HGDP","p":"EA","x":0.93,"y":0.02},{"c":"ALS","r":"HGDP","p":"EA","x":0.42,"y":0.05},{"c":"ALS","r":"HGDP","p":"EA","x":0.48,"y":0.04},
{"c":"ALS","r":"HGDP","p":"WE","x":0,"y":0.35},{"c":"ALS","r":"HGDP","p":"WE","x":0.01,"y":0.33},{"c":"ALS","r":"HGDP","p":"WE","x":0.02,"y":0.3},{"c":"ALS","r":"HGDP","p":"WE","x":0,"y":0.27},{"c":"ALS","r":"HGDP","p":"WE","x":0.03,"y":0.25},{"c":"ALS","r":"HGDP","p":"WE","x":0.01,"y":0.22},{"c":"ALS","r":"HGDP","p":"WE","x":0.02,"y":0.2},{"c":"ALS","r":"HGDP","p":"WE","x":0.04,"y":0.18},{"c":"ALS","r":"HGDP","p":"WE","x":0,"y":0.16},{"c":"ALS","r":"HGDP","p":"WE","x":0.03,"y":0.14},{"c":"ALS","r":"HGDP","p":"WE","x":0.01,"y":0.12},{"c":"ALS","r":"HGDP","p":"WE","x":0.05,"y":0.1},{"c":"ALS","r":"HGDP","p":"WE","x":0.02,"y":0.08},{"c":"ALS","r":"HGDP","p":"WE","x":0,"y":0.06},{"c":"ALS","r":"HGDP","p":"WE","x":0.04,"y":0.05},{"c":"ALS","r":"HGDP","p":"WE","x":0.02,"y":0.03},{"c":"ALS","r":"HGDP","p":"WE","x":0.05,"y":0.02},{"c":"ALS","r":"HGDP","p":"WE","x":0.01,"y":0.01},{"c":"ALS","r":"HGDP","p":"WE","x":0.03,"y":0.32},{"c":"ALS","r":"HGDP","p":"WE","x":0.04,"y":0.27},
{"c":"ALS","r":"HGDP","p":"CA","x":0.29,"y":0.05},{"c":"ALS","r":"HGDP","p":"CA","x":0.28,"y":0.07},{"c":"ALS","r":"HGDP","p":"CA","x":0.06,"y":0.04},{"c":"ALS","r":"HGDP","p":"CA","x":0.07,"y":0.06},{"c":"ALS","r":"HGDP","p":"CA","x":0.6,"y":0.01},{"c":"ALS","r":"HGDP","p":"CA","x":0.55,"y":0.02},{"c":"ALS","r":"HGDP","p":"CA","x":0.08,"y":0.02},
{"c":"ALS","r":"HGDP","p":"OC","x":0.27,"y":0},{"c":"ALS","r":"HGDP","p":"OC","x":0.26,"y":0.01},{"c":"ALS","r":"HGDP","p":"OC","x":0.19,"y":0},{"c":"ALS","r":"HGDP","p":"OC","x":0.28,"y":0.02},
{"c":"ALS","r":"HGDP","p":"AF","x":0,"y":0.02},{"c":"ALS","r":"HGDP","p":"AF","x":0.02,"y":0},{"c":"ALS","r":"HGDP","p":"AF","x":0.01,"y":0.04},

{"c":"ADX","r":"HO","p":"AF","x":0,"y":1},{"c":"ADX","r":"HO","p":"AF","x":0.01,"y":0.97},{"c":"ADX","r":"HO","p":"AF","x":0,"y":0.94},{"c":"ADX","r":"HO","p":"AF","x":0.01,"y":0.92},{"c":"ADX","r":"HO","p":"AF","x":0,"y":0.89},{"c":"ADX","r":"HO","p":"AF","x":0.01,"y":0.86},{"c":"ADX","r":"HO","p":"AF","x":0,"y":0.8},{"c":"ADX","r":"HO","p":"AF","x":0.01,"y":0.77},{"c":"ADX","r":"HO","p":"AF","x":0,"y":0.74},{"c":"ADX","r":"HO","p":"AF","x":0.01,"y":0.7},{"c":"ADX","r":"HO","p":"AF","x":0,"y":0.67},{"c":"ADX","r":"HO","p":"AF","x":0.01,"y":0.64},{"c":"ADX","r":"HO","p":"AF","x":0,"y":0.6},{"c":"ADX","r":"HO","p":"AF","x":0.01,"y":0.57},{"c":"ADX","r":"HO","p":"AF","x":0,"y":0.54},{"c":"ADX","r":"HO","p":"AF","x":0.01,"y":0.5},{"c":"ADX","r":"HO","p":"AF","x":0,"y":0.47},{"c":"ADX","r":"HO","p":"AF","x":0.01,"y":0.44},{"c":"ADX","r":"HO","p":"AF","x":0,"y":0.35},{"c":"ADX","r":"HO","p":"AF","x":0.01,"y":0.3},{"c":"ADX","r":"HO","p":"AF","x":0,"y":0.26},{"c":"ADX","r":"HO","p":"AF","x":0.01,"y":0.22},{"c":"ADX","r":"HO","p":"AF","x":0,"y":0.18},{"c":"ADX","r":"HO","p":"AF","x":0.01,"y":0.14},{"c":"ADX","r":"HO","p":"AF","x":0,"y":0.1},{"c":"ADX","r":"HO","p":"AF","x":0.01,"y":0.06},{"c":"ADX","r":"HO","p":"AF","x":0.02,"y":0.19},{"c":"ADX","r":"HO","p":"AF","x":0.04,"y":0.18},{"c":"ADX","r":"HO","p":"AF","x":0.05,"y":0.17},{"c":"ADX","r":"HO","p":"AF","x":0.08,"y":0.17},{"c":"ADX","r":"HO","p":"AF","x":0.1,"y":0.13},{"c":"ADX","r":"HO","p":"AF","x":0.12,"y":0.17},{"c":"ADX","r":"HO","p":"AF","x":0.15,"y":0.13},{"c":"ADX","r":"HO","p":"AF","x":0.16,"y":0.16},{"c":"ADX","r":"HO","p":"AF","x":0.29,"y":0.12},{"c":"ADX","r":"HO","p":"AF","x":0.3,"y":0.1},{"c":"ADX","r":"HO","p":"AF","x":0.31,"y":0.11},{"c":"ADX","r":"HO","p":"AF","x":0.32,"y":0.08},{"c":"ADX","r":"HO","p":"AF","x":0.33,"y":0.12},{"c":"ADX","r":"HO","p":"AF","x":0.34,"y":0.09},{"c":"ADX","r":"HO","p":"AF","x":0.35,"y":0.11},{"c":"ADX","r":"HO","p":"AF","x":0.36,"y":0.08},{"c":"ADX","r":"HO","p":"AF","x":0.3,"y":0.07},{"c":"ADX","r":"HO","p":"AF","x":0.34,"y":0.05},{"c":"ADX","r":"HO","p":"AF","x":0.37,"y":0.1},
{"c":"ADX","r":"HO","p":"AM","x":0.01,"y":0.85},{"c":"ADX","r":"HO","p":"AM","x":0.02,"y":0.82},{"c":"ADX","r":"HO","p":"AM","x":0.01,"y":0.8},{"c":"ADX","r":"HO","p":"AM","x":0.02,"y":0.77},{"c":"ADX","r":"HO","p":"AM","x":0.05,"y":0.39},{"c":"ADX","r":"HO","p":"AM","x":0.01,"y":0.02},{"c":"ADX","r":"HO","p":"AM","x":0.03,"y":0.01},
{"c":"ADX","r":"HO","p":"WE","x":0.22,"y":0.25},{"c":"ADX","r":"HO","p":"WE","x":0.28,"y":0.15},{"c":"ADX","r":"HO","p":"WE","x":0.25,"y":0.05},{"c":"ADX","r":"HO","p":"WE","x":0.3,"y":0.04},{"c":"ADX","r":"HO","p":"WE","x":0.33,"y":0.06},{"c":"ADX","r":"HO","p":"WE","x":0.36,"y":0.05},{"c":"ADX","r":"HO","p":"WE","x":0.38,"y":0.07},{"c":"ADX","r":"HO","p":"WE","x":0.4,"y":0.08},{"c":"ADX","r":"HO","p":"WE","x":0.42,"y":0.06},{"c":"ADX","r":"HO","p":"WE","x":0.44,"y":0.07},{"c":"ADX","r":"HO","p":"WE","x":0.46,"y":0.05},{"c":"ADX","r":"HO","p":"WE","x":0.48,"y":0.06},{"c":"ADX","r":"HO","p":"WE","x":0.5,"y":0.04},{"c":"ADX","r":"HO","p":"WE","x":0.52,"y":0.05},{"c":"ADX","r":"HO","p":"WE","x":0.55,"y":0.03},{"c":"ADX","r":"HO","p":"WE","x":0.58,"y":0.04},{"c":"ADX","r":"HO","p":"WE","x":0.6,"y":0.02},{"c":"ADX","r":"HO","p":"WE","x":0.63,"y":0.03},{"c":"ADX","r":"HO","p":"WE","x":0.66,"y":0.02},{"c":"ADX","r":"HO","p":"WE","x":0.69,"y":0.01},{"c":"ADX","r":"HO","p":"WE","x":0.72,"y":0.01},{"c":"ADX","r":"HO","p":"WE","x":0.74,"y":0},{"c":"ADX","r":"HO","p":"WE","x":0.35,"y":0.02},{"c":"ADX","r":"HO","p":"WE","x":0.4,"y":0.03},{"c":"ADX","r":"HO","p":"WE","x":0.45,"y":0.02},{"c":"ADX","r":"HO","p":"WE","x":0.5,"y":0.01},{"c":"ADX","r":"HO","p":"WE","x":0.2,"y":0.01},{"c":"ADX","r":"HO","p":"WE","x":0.15,"y":0.02},{"c":"ADX","r":"HO","p":"WE","x":0.1,"y":0},{"c":"ADX","r":"HO","p":"WE","x":0.27,"y":0.02},{"c":"ADX","r":"HO","p":"WE","x":0.38,"y":0},{"c":"ADX","r":"HO","p":"WE","x":0.43,"y":0.04},{"c":"ADX","r":"HO","p":"WE","x":0.39,"y":0.1},{"c":"ADX","r":"HO","p":"WE","x":0.41,"y":0.09},
{"c":"ADX","r":"HO","p":"WE","x":0.32,"y":0.03},{"c":"ADX","r":"HO","p":"WE","x":0.37,"y":0.04},{"c":"ADX","r":"HO","p":"WE","x":0.41,"y":0.05},{"c":"ADX","r":"HO","p":"WE","x":0.44,"y":0.04},{"c":"ADX","r":"HO","p":"WE","x":0.47,"y":0.03},{"c":"ADX","r":"HO","p":"WE","x":0.49,"y":0.07},{"c":"ADX","r":"HO","p":"WE","x":0.53,"y":0.03},{"c":"ADX","r":"HO","p":"WE","x":0.56,"y":0.05},{"c":"ADX","r":"HO","p":"WE","x":0.6,"y":0.04},{"c":"ADX","r":"HO","p":"WE","x":0.62,"y":0.01},{"c":"ADX","r":"HO","p":"WE","x":0.65,"y":0.03},{"c":"ADX","r":"HO","p":"WE","x":0.68,"y":0.02},{"c":"ADX","r":"HO","p":"WE","x":0.3,"y":0.01},{"c":"ADX","r":"HO","p":"WE","x":0.42,"y":0.01},{"c":"ADX","r":"HO","p":"WE","x":0.54,"y":0.01},{"c":"ADX","r":"HO","p":"WE","x":0.26,"y":0.03},
{"c":"ADX","r":"HO","p":"SA","x":0.05,"y":0},{"c":"ADX","r":"HO","p":"SA","x":0.08,"y":0.01},{"c":"ADX","r":"HO","p":"SA","x":0.12,"y":0},{"c":"ADX","r":"HO","p":"SA","x":0.17,"y":0.01},{"c":"ADX","r":"HO","p":"SA","x":0.22,"y":0},
{"c":"ADX","r":"HO","p":"CA","x":0,"y":0.02},{"c":"ADX","r":"HO","p":"CA","x":0.02,"y":0},{"c":"ADX","r":"HO","p":"CA","x":0.04,"y":0.02},{"c":"ADX","r":"HO","p":"CA","x":0.07,"y":0},{"c":"ADX","r":"HO","p":"CA","x":0.1,"y":0.01},

{"c":"FS","r":"HO","p":"AF","x":0,"y":0.98},{"c":"FS","r":"HO","p":"AF","x":0,"y":0.9},{"c":"FS","r":"HO","p":"AF","x":0,"y":0.85},{"c":"FS","r":"HO","p":"AF","x":0.01,"y":0.78},{"c":"FS","r":"HO","p":"AF","x":0,"y":0.72},{"c":"FS","r":"HO","p":"AF","x":0,"y":0.65},{"c":"FS","r":"HO","p":"AF","x":0,"y":0.55},{"c":"FS","r":"HO","p":"AF","x":0.01,"y":0.5},{"c":"FS","r":"HO","p":"AF","x":0,"y":0.45},{"c":"FS","r":"HO","p":"AF","x":0,"y":0.38},{"c":"FS","r":"HO","p":"AF","x":0.01,"y":0.3},{"c":"FS","r":"HO","p":"AF","x":0,"y":0.22},{"c":"FS","r":"HO","p":"AF","x":0,"y":0.15},{"c":"FS","r":"HO","p":"AF","x":0.01,"y":0.08},{"c":"FS","r":"HO","p":"AF","x":0.03,"y":0.43},{"c":"FS","r":"HO","p":"AF","x":0.04,"y":0.95},{"c":"FS","r":"HO","p":"AF","x":0.06,"y":0.93},{"c":"FS","r":"HO","p":"AF","x":0.24,"y":0.75},{"c":"FS","r":"HO","p":"AF","x":0.3,"y":0.7},{"c":"FS","r":"HO","p":"AF","x":0.42,"y":0.59},{"c":"FS","r":"HO","p":"AF","x":0.76,"y":0.24},{"c":"FS","r":"HO","p":"AF","x":0.37,"y":0.16},{"c":"FS","r":"HO","p":"AF","x":0.4,"y":0.19},{"c":"FS","r":"HO","p":"AF","x":0.42,"y":0.14},{"c":"FS","r":"HO","p":"AF","x":0.44,"y":0.17},{"c":"FS","r":"HO","p":"AF","x":0.46,"y":0.2},{"c":"FS","r":"HO","p":"AF","x":0.48,"y":0.15},{"c":"FS","r":"HO","p":"AF","x":0.5,"y":0.18},{"c":"FS","r":"HO","p":"AF","x":0.52,"y":0.13},{"c":"FS","r":"HO","p":"AF","x":0.54,"y":0.17},{"c":"FS","r":"HO","p":"AF","x":0.55,"y":0.14},{"c":"FS","r":"HO","p":"AF","x":0.57,"y":0.19},{"c":"FS","r":"HO","p":"AF","x":0.58,"y":0.11},{"c":"FS","r":"HO","p":"AF","x":0.6,"y":0.15},{"c":"FS","r":"HO","p":"AF","x":0.62,"y":0.1},{"c":"FS","r":"HO","p":"AF","x":0.64,"y":0.13},{"c":"FS","r":"HO","p":"AF","x":0.66,"y":0.08},{"c":"FS","r":"HO","p":"AF","x":0.68,"y":0.12},{"c":"FS","r":"HO","p":"AF","x":0.45,"y":0.1},{"c":"FS","r":"HO","p":"AF","x":0.5,"y":0.09},{"c":"FS","r":"HO","p":"AF","x":0.8,"y":0.05},{"c":"FS","r":"HO","p":"AF","x":0.88,"y":0.05},{"c":"FS","r":"HO","p":"AF","x":0.93,"y":0.04},{"c":"FS","r":"HO","p":"AF","x":0.97,"y":0.02},{"c":"FS","r":"HO","p":"AF","x":0.43,"y":0.07},
{"c":"FS","r":"HO","p":"AM","x":0.1,"y":0.9},{"c":"FS","r":"HO","p":"AM","x":0.12,"y":0.88},{"c":"FS","r":"HO","p":"AM","x":0.14,"y":0.86},{"c":"FS","r":"HO","p":"AM","x":0.15,"y":0.84},{"c":"FS","r":"HO","p":"AM","x":0.17,"y":0.83},{"c":"FS","r":"HO","p":"AM","x":0.19,"y":0.81},
{"c":"FS","r":"HO","p":"WE","x":0.35,"y":0.065},{"c":"FS","r":"HO","p":"WE","x":0.48,"y":0.01},{"c":"FS","r":"HO","p":"WE","x":0.69,"y":0.1},{"c":"FS","r":"HO","p":"WE","x":0.7,"y":0.09},{"c":"FS","r":"HO","p":"WE","x":0.05,"y":0},{"c":"FS","r":"HO","p":"WE","x":0.1,"y":0.01},{"c":"FS","r":"HO","p":"WE","x":0.2,"y":0},{"c":"FS","r":"HO","p":"WE","x":0.3,"y":0.01},{"c":"FS","r":"HO","p":"WE","x":0.4,"y":0},{"c":"FS","r":"HO","p":"WE","x":0.5,"y":0},{"c":"FS","r":"HO","p":"WE","x":0.6,"y":0.01},{"c":"FS","r":"HO","p":"WE","x":0.7,"y":0},{"c":"FS","r":"HO","p":"WE","x":0.8,"y":0.01},{"c":"FS","r":"HO","p":"WE","x":0.9,"y":0},{"c":"FS","r":"HO","p":"WE","x":0.96,"y":0.01},{"c":"FS","r":"HO","p":"WE","x":0.92,"y":0.05},
{"c":"FS","r":"HO","p":"SA","x":0.02,"y":0},{"c":"FS","r":"HO","p":"SA","x":0.04,"y":0.01},{"c":"FS","r":"HO","p":"SA","x":0.08,"y":0},{"c":"FS","r":"HO","p":"OC","x":0.25,"y":0},

{"c":"TS","r":"HO","p":"AF","x":0,"y":1},{"c":"TS","r":"HO","p":"AF","x":0,"y":0.96},{"c":"TS","r":"HO","p":"AF","x":0.01,"y":0.92},{"c":"TS","r":"HO","p":"AF","x":0,"y":0.88},{"c":"TS","r":"HO","p":"AF","x":0,"y":0.84},{"c":"TS","r":"HO","p":"AF","x":0.01,"y":0.8},{"c":"TS","r":"HO","p":"AF","x":0,"y":0.76},{"c":"TS","r":"HO","p":"AF","x":0,"y":0.72},{"c":"TS","r":"HO","p":"AF","x":0.01,"y":0.68},{"c":"TS","r":"HO","p":"AF","x":0,"y":0.64},{"c":"TS","r":"HO","p":"AF","x":0,"y":0.6},{"c":"TS","r":"HO","p":"AF","x":0.01,"y":0.56},{"c":"TS","r":"HO","p":"AF","x":0,"y":0.52},{"c":"TS","r":"HO","p":"AF","x":0,"y":0.48},{"c":"TS","r":"HO","p":"AF","x":0.01,"y":0.44},{"c":"TS","r":"HO","p":"AF","x":0,"y":0.4},{"c":"TS","r":"HO","p":"AF","x":0,"y":0.36},{"c":"TS","r":"HO","p":"AF","x":0.01,"y":0.32},{"c":"TS","r":"HO","p":"AF","x":0,"y":0.28},{"c":"TS","r":"HO","p":"AF","x":0,"y":0.24},{"c":"TS","r":"HO","p":"AF","x":0.01,"y":0.2},{"c":"TS","r":"HO","p":"AF","x":0,"y":0.16},{"c":"TS","r":"HO","p":"AF","x":0,"y":0.12},{"c":"TS","r":"HO","p":"AF","x":0.01,"y":0.08},{"c":"TS","r":"HO","p":"AF","x":0,"y":0.04},{"c":"TS","r":"HO","p":"AF","x":0.05,"y":0},{"c":"TS","r":"HO","p":"AF","x":0.2,"y":0},
{"c":"TS","r":"HO","p":"AM","x":0,"y":0.7},{"c":"TS","r":"HO","p":"AM","x":0.01,"y":0.5},{"c":"TS","r":"HO","p":"AM","x":0,"y":0.3},{"c":"TS","r":"HO","p":"AM","x":0,"y":0.1},
{"c":"TS","r":"HO","p":"SA","x":0.1,"y":0},{"c":"TS","r":"HO","p":"SA","x":0.3,"y":0},{"c":"TS","r":"HO","p":"SA","x":0.55,"y":0},{"c":"TS","r":"HO","p":"SA","x":0.6,"y":0.01},{"c":"TS","r":"HO","p":"SA","x":0.15,"y":0.01},
{"c":"TS","r":"HO","p":"CA","x":0.25,"y":0},{"c":"TS","r":"HO","p":"CA","x":0.35,"y":0},{"c":"TS","r":"HO","p":"CA","x":0.45,"y":0.01},{"c":"TS","r":"HO","p":"CA","x":0.02,"y":0.01},
{"c":"TS","r":"HO","p":"EA","x":0.4,"y":0},{"c":"TS","r":"HO","p":"EA","x":0.7,"y":0},{"c":"TS","r":"HO","p":"EA","x":0.8,"y":0},{"c":"TS","r":"HO","p":"EA","x":0.9,"y":0},{"c":"TS","r":"HO","p":"EA","x":0.98,"y":0},
{"c":"TS","r":"HO","p":"OC","x":0.5,"y":0},{"c":"TS","r":"HO","p":"OC","x":0.65,"y":0},{"c":"TS","r":"HO","p":"OC","x":0.75,"y":0.01},
{"c":"TS","r":"HO","p":"WE","x":0.12,"y":0},{"c":"TS","r":"HO","p":"WE","x":0.85,"y":0},{"c":"TS","r":"HO","p":"WE","x":0.95,"y":0.01},

{"c":"ALS","r":"HO","p":"WE","x":0.02,"y":0.72},{"c":"ALS","r":"HO","p":"WE","x":0.03,"y":0.7},{"c":"ALS","r":"HO","p":"WE","x":0.05,"y":0.69},{"c":"ALS","r":"HO","p":"WE","x":0.04,"y":0.67},{"c":"ALS","r":"HO","p":"WE","x":0.06,"y":0.66},{"c":"ALS","r":"HO","p":"WE","x":0.08,"y":0.67},{"c":"ALS","r":"HO","p":"WE","x":0.09,"y":0.64},{"c":"ALS","r":"HO","p":"WE","x":0.1,"y":0.65},{"c":"ALS","r":"HO","p":"WE","x":0.12,"y":0.63},{"c":"ALS","r":"HO","p":"WE","x":0.13,"y":0.64},{"c":"ALS","r":"HO","p":"WE","x":0.14,"y":0.61},{"c":"ALS","r":"HO","p":"WE","x":0.16,"y":0.62},{"c":"ALS","r":"HO","p":"WE","x":0.17,"y":0.6},{"c":"ALS","r":"HO","p":"WE","x":0.19,"y":0.6},{"c":"ALS","r":"HO","p":"WE","x":0.2,"y":0.58},{"c":"ALS","r":"HO","p":"WE","x":0.21,"y":0.61},{"c":"ALS","r":"HO","p":"WE","x":0.22,"y":0.57},{"c":"ALS","r":"HO","p":"WE","x":0.23,"y":0.55},{"c":"ALS","r":"HO","p":"WE","x":0.24,"y":0.57},{"c":"ALS","r":"HO","p":"WE","x":0.25,"y":0.54},{"c":"ALS","r":"HO","p":"WE","x":0.26,"y":0.52},{"c":"ALS","r":"HO","p":"WE","x":0.27,"y":0.53},{"c":"ALS","r":"HO","p":"WE","x":0.28,"y":0.5},{"c":"ALS","r":"HO","p":"WE","x":0.29,"y":0.48},{"c":"ALS","r":"HO","p":"WE","x":0.3,"y":0.46},{"c":"ALS","r":"HO","p":"WE","x":0.31,"y":0.47},{"c":"ALS","r":"HO","p":"WE","x":0.32,"y":0.44},{"c":"ALS","r":"HO","p":"WE","x":0.33,"y":0.42},{"c":"ALS","r":"HO","p":"WE","x":0.34,"y":0.43},{"c":"ALS","r":"HO","p":"WE","x":0.35,"y":0.4},{"c":"ALS","r":"HO","p":"WE","x":0.36,"y":0.38},{"c":"ALS","r":"HO","p":"WE","x":0.37,"y":0.39},{"c":"ALS","r":"HO","p":"WE","x":0.38,"y":0.36},{"c":"ALS","r":"HO","p":"WE","x":0.39,"y":0.34},{"c":"ALS","r":"HO","p":"WE","x":0.4,"y":0.35},{"c":"ALS","r":"HO","p":"WE","x":0.41,"y":0.32},{"c":"ALS","r":"HO","p":"WE","x":0.42,"y":0.3},{"c":"ALS","r":"HO","p":"WE","x":0.43,"y":0.31},{"c":"ALS","r":"HO","p":"WE","x":0.44,"y":0.28},{"c":"ALS","r":"HO","p":"WE","x":0.45,"y":0.27},{"c":"ALS","r":"HO","p":"WE","x":0.46,"y":0.48},{"c":"ALS","r":"HO","p":"WE","x":0.47,"y":0.47},{"c":"ALS","r":"HO","p":"WE","x":0.48,"y":0.46},{"c":"ALS","r":"HO","p":"WE","x":0.45,"y":0.46},{"c":"ALS","r":"HO","p":"WE","x":0.47,"y":0.25},{"c":"ALS","r":"HO","p":"WE","x":0.49,"y":0.22},{"c":"ALS","r":"HO","p":"WE","x":0.5,"y":0.24},{"c":"ALS","r":"HO","p":"WE","x":0.52,"y":0.2},{"c":"ALS","r":"HO","p":"WE","x":0.54,"y":0.17},{"c":"ALS","r":"HO","p":"WE","x":0.55,"y":0.15},{"c":"ALS","r":"HO","p":"WE","x":0.05,"y":0.59},{"c":"ALS","r":"HO","p":"WE","x":0.07,"y":0.56},{"c":"ALS","r":"HO","p":"WE","x":0.08,"y":0.53},{"c":"ALS","r":"HO","p":"WE","x":0.06,"y":0.5},{"c":"ALS","r":"HO","p":"WE","x":0.26,"y":0.64},{"c":"ALS","r":"HO","p":"WE","x":0.04,"y":0.63},{"c":"ALS","r":"HO","p":"WE","x":0.2,"y":0.24},{"c":"ALS","r":"HO","p":"WE","x":0.22,"y":0.22},{"c":"ALS","r":"HO","p":"WE","x":0.24,"y":0.23},{"c":"ALS","r":"HO","p":"WE","x":0.26,"y":0.21},{"c":"ALS","r":"HO","p":"WE","x":0.28,"y":0.22},{"c":"ALS","r":"HO","p":"WE","x":0.3,"y":0.2},{"c":"ALS","r":"HO","p":"WE","x":0.32,"y":0.21},{"c":"ALS","r":"HO","p":"WE","x":0.34,"y":0.19},{"c":"ALS","r":"HO","p":"WE","x":0.36,"y":0.18},{"c":"ALS","r":"HO","p":"WE","x":0.38,"y":0.19},{"c":"ALS","r":"HO","p":"WE","x":0.4,"y":0.17},{"c":"ALS","r":"HO","p":"WE","x":0.42,"y":0.16},{"c":"ALS","r":"HO","p":"WE","x":0.44,"y":0.17},{"c":"ALS","r":"HO","p":"WE","x":0.46,"y":0.14},{"c":"ALS","r":"HO","p":"WE","x":0.48,"y":0.15},{"c":"ALS","r":"HO","p":"WE","x":0.5,"y":0.12},{"c":"ALS","r":"HO","p":"WE","x":0.52,"y":0.1},{"c":"ALS","r":"HO","p":"WE","x":0.54,"y":0.09},{"c":"ALS","r":"HO","p":"WE","x":0.29,"y":0.3},{"c":"ALS","r":"HO","p":"WE","x":0.25,"y":0.27},{"c":"ALS","r":"HO","p":"WE","x":0.18,"y":0.26},{"c":"ALS","r":"HO","p":"WE","x":0.35,"y":0.23},{"c":"ALS","r":"HO","p":"WE","x":0.41,"y":0.2},{"c":"ALS","r":"HO","p":"WE","x":0.47,"y":0.11},{"c":"ALS","r":"HO","p":"WE","x":0.36,"y":0.13},{"c":"ALS","r":"HO","p":"WE","x":0.71,"y":0.02},{"c":"ALS","r":"HO","p":"WE","x":0.73,"y":0.01},{"c":"ALS","r":"HO","p":"WE","x":0.75,"y":0.02},{"c":"ALS","r":"HO","p":"WE","x":0.77,"y":0.01},{"c":"ALS","r":"HO","p":"WE","x":0.79,"y":0.01},{"c":"ALS","r":"HO","p":"WE","x":0.56,"y":0.06},
{"c":"ALS","r":"HO","p":"WE","x":0.04,"y":0.74},{"c":"ALS","r":"HO","p":"WE","x":0.07,"y":0.7},{"c":"ALS","r":"HO","p":"WE","x":0.11,"y":0.68},{"c":"ALS","r":"HO","p":"WE","x":0.15,"y":0.66},{"c":"ALS","r":"HO","p":"WE","x":0.18,"y":0.63},{"c":"ALS","r":"HO","p":"WE","x":0.12,"y":0.59},{"c":"ALS","r":"HO","p":"WE","x":0.16,"y":0.57},{"c":"ALS","r":"HO","p":"WE","x":0.19,"y":0.55},{"c":"ALS","r":"HO","p":"WE","x":0.21,"y":0.52},{"c":"ALS","r":"HO","p":"WE","x":0.24,"y":0.5},{"c":"ALS","r":"HO","p":"WE","x":0.27,"y":0.58},{"c":"ALS","r":"HO","p":"WE","x":0.3,"y":0.52},{"c":"ALS","r":"HO","p":"WE","x":0.33,"y":0.48},{"c":"ALS","r":"HO","p":"WE","x":0.31,"y":0.41},{"c":"ALS","r":"HO","p":"WE","x":0.36,"y":0.44},{"c":"ALS","r":"HO","p":"WE","x":0.39,"y":0.4},{"c":"ALS","r":"HO","p":"WE","x":0.34,"y":0.36},{"c":"ALS","r":"HO","p":"WE","x":0.42,"y":0.37},{"c":"ALS","r":"HO","p":"WE","x":0.44,"y":0.33},{"c":"ALS","r":"HO","p":"WE","x":0.38,"y":0.3},{"c":"ALS","r":"HO","p":"WE","x":0.48,"y":0.28},{"c":"ALS","r":"HO","p":"WE","x":0.46,"y":0.22},{"c":"ALS","r":"HO","p":"WE","x":0.51,"y":0.26},{"c":"ALS","r":"HO","p":"WE","x":0.43,"y":0.45},{"c":"ALS","r":"HO","p":"WE","x":0.49,"y":0.44},{"c":"ALS","r":"HO","p":"WE","x":0.23,"y":0.28},{"c":"ALS","r":"HO","p":"WE","x":0.27,"y":0.24},{"c":"ALS","r":"HO","p":"WE","x":0.31,"y":0.25},{"c":"ALS","r":"HO","p":"WE","x":0.33,"y":0.16},{"c":"ALS","r":"HO","p":"WE","x":0.39,"y":0.15},{"c":"ALS","r":"HO","p":"WE","x":0.43,"y":0.13},{"c":"ALS","r":"HO","p":"WE","x":0.45,"y":0.19},{"c":"ALS","r":"HO","p":"WE","x":0.49,"y":0.09},{"c":"ALS","r":"HO","p":"WE","x":0.51,"y":0.16},{"c":"ALS","r":"HO","p":"WE","x":0.16,"y":0.24},{"c":"ALS","r":"HO","p":"WE","x":0.14,"y":0.28},
{"c":"ALS","r":"HO","p":"AF","x":0.5,"y":0.22},{"c":"ALS","r":"HO","p":"AF","x":0.51,"y":0.2},{"c":"ALS","r":"HO","p":"AF","x":0.52,"y":0.18},{"c":"ALS","r":"HO","p":"AF","x":0.53,"y":0.21},{"c":"ALS","r":"HO","p":"AF","x":0.54,"y":0.16},{"c":"ALS","r":"HO","p":"AF","x":0.55,"y":0.19},{"c":"ALS","r":"HO","p":"AF","x":0.56,"y":0.13},{"c":"ALS","r":"HO","p":"AF","x":0.57,"y":0.1},{"c":"ALS","r":"HO","p":"AF","x":0.53,"y":0.12},{"c":"ALS","r":"HO","p":"AF","x":0.55,"y":0.08},{"c":"ALS","r":"HO","p":"AF","x":0.51,"y":0.14},{"c":"ALS","r":"HO","p":"AF","x":0.34,"y":0},{"c":"ALS","r":"HO","p":"AF","x":0.38,"y":0.01},{"c":"ALS","r":"HO","p":"AF","x":0.42,"y":0},{"c":"ALS","r":"HO","p":"AF","x":0.46,"y":0},{"c":"ALS","r":"HO","p":"AF","x":0.62,"y":0},{"c":"ALS","r":"HO","p":"AF","x":0.02,"y":0.02},{"c":"ALS","r":"HO","p":"AF","x":0.04,"y":0},
{"c":"ALS","r":"HO","p":"CA","x":0,"y":0.38},{"c":"ALS","r":"HO","p":"CA","x":0.01,"y":0.33},{"c":"ALS","r":"HO","p":"CA","x":0,"y":0.3},{"c":"ALS","r":"HO","p":"CA","x":0.01,"y":0.27},{"c":"ALS","r":"HO","p":"CA","x":0,"y":0.24},{"c":"ALS","r":"HO","p":"CA","x":0.01,"y":0.2},{"c":"ALS","r":"HO","p":"CA","x":0,"y":0.17},{"c":"ALS","r":"HO","p":"CA","x":0.01,"y":0.13},{"c":"ALS","r":"HO","p":"CA","x":0,"y":0.1},{"c":"ALS","r":"HO","p":"CA","x":0.01,"y":0.07},{"c":"ALS","r":"HO","p":"CA","x":0.02,"y":0.56},{"c":"ALS","r":"HO","p":"CA","x":0.05,"y":0.52},{"c":"ALS","r":"HO","p":"CA","x":0.03,"y":0.48},{"c":"ALS","r":"HO","p":"CA","x":0.06,"y":0.44},{"c":"ALS","r":"HO","p":"CA","x":0.04,"y":0.4},{"c":"ALS","r":"HO","p":"CA","x":0.05,"y":0.35},{"c":"ALS","r":"HO","p":"CA","x":0.03,"y":0.3},{"c":"ALS","r":"HO","p":"CA","x":0.07,"y":0.31},{"c":"ALS","r":"HO","p":"CA","x":0.1,"y":0.26},{"c":"ALS","r":"HO","p":"CA","x":0.12,"y":0.24},{"c":"ALS","r":"HO","p":"CA","x":0.14,"y":0.2},{"c":"ALS","r":"HO","p":"CA","x":0.16,"y":0.22},{"c":"ALS","r":"HO","p":"CA","x":0.18,"y":0.18},{"c":"ALS","r":"HO","p":"CA","x":0.2,"y":0.17},{"c":"ALS","r":"HO","p":"CA","x":0.24,"y":0.16},{"c":"ALS","r":"HO","p":"CA","x":0.28,"y":0.16},{"c":"ALS","r":"HO","p":"CA","x":0.09,"y":0.18},{"c":"ALS","r":"HO","p":"CA","x":0.11,"y":0.15},{"c":"ALS","r":"HO","p":"CA","x":0.06,"y":0.13},{"c":"ALS","r":"HO","p":"CA","x":0.03,"y":0.1},{"c":"ALS","r":"HO","p":"CA","x":0.08,"y":0.09},{"c":"ALS","r":"HO","p":"CA","x":0.04,"y":0.06},{"c":"ALS","r":"HO","p":"CA","x":0.02,"y":0.04},{"c":"ALS","r":"HO","p":"CA","x":0.13,"y":0.12},{"c":"ALS","r":"HO","p":"CA","x":0.07,"y":0.2},
{"c":"ALS","r":"HO","p":"SA","x":0.05,"y":0.02},{"c":"ALS","r":"HO","p":"SA","x":0.07,"y":0.05},{"c":"ALS","r":"HO","p":"SA","x":0.09,"y":0.03},{"c":"ALS","r":"HO","p":"SA","x":0.1,"y":0.08},{"c":"ALS","r":"HO","p":"SA","x":0.12,"y":0.04},{"c":"ALS","r":"HO","p":"SA","x":0.13,"y":0.1},{"c":"ALS","r":"HO","p":"SA","x":0.14,"y":0.06},{"c":"ALS","r":"HO","p":"SA","x":0.15,"y":0.12},{"c":"ALS","r":"HO","p":"SA","x":0.16,"y":0.02},{"c":"ALS","r":"HO","p":"SA","x":0.17,"y":0.08},{"c":"ALS","r":"HO","p":"SA","x":0.18,"y":0.1},{"c":"ALS","r":"HO","p":"SA","x":0.19,"y":0.04},{"c":"ALS","r":"HO","p":"SA","x":0.2,"y":0.07},{"c":"ALS","r":"HO","p":"SA","x":0.21,"y":0.12},{"c":"ALS","r":"HO","p":"SA","x":0.22,"y":0.02},{"c":"ALS","r":"HO","p":"SA","x":0.23,"y":0.06},{"c":"ALS","r":"HO","p":"SA","x":0.24,"y":0.03},{"c":"ALS","r":"HO","p":"SA","x":0.25,"y":0.08},{"c":"ALS","r":"HO","p":"SA","x":0.27,"y":0.05},{"c":"ALS","r":"HO","p":"SA","x":0.28,"y":0.02},{"c":"ALS","r":"HO","p":"SA","x":0.11,"y":0.01},{"c":"ALS","r":"HO","p":"SA","x":0.15,"y":0},{"c":"ALS","r":"HO","p":"SA","x":0.08,"y":0.11},{"c":"ALS","r":"HO","p":"SA","x":0.1,"y":0.14},
{"c":"ALS","r":"HO","p":"AM","x":0,"y":0.02},{"c":"ALS","r":"HO","p":"AM","x":0.01,"y":0.05},{"c":"ALS","r":"HO","p":"AM","x":0.02,"y":0.07},{"c":"ALS","r":"HO","p":"AM","x":0.03,"y":0.03},{"c":"ALS","r":"HO","p":"AM","x":0.04,"y":0.04},{"c":"ALS","r":"HO","p":"AM","x":0.01,"y":0},
{"c":"ALS","r":"HO","p":"EA","x":0.06,"y":0.06},{"c":"ALS","r":"HO","p":"EA","x":0.09,"y":0.06},{"c":"ALS","r":"HO","p":"EA","x":0.12,"y":0.07},{"c":"ALS","r":"HO","p":"EA","x":0.03,"y":0.01}
]},
"transform": [{"lookup": "p", "from": {"data": {"name": "pops"}, "key": "p", "fields": ["Population"]}}],
"facet": {
  "column": {"field": "c", "type": "nominal", "sort": ["ADX","FS","TS","ALS"], "header": {"title": null, "labelFontSize": 24, "labelFont": "Liberation Sans", "labelColor": "black", "labelAnchor": "start", "labelPadding": -1}},
  "row": {"field": "r", "type": "nominal", "sort": ["TGP","HGDP","HO"], "header": {"title": null, "labelFontSize": 24, "labelFont": "Liberation Sans", "labelColor": "black", "labelAngle": -90, "labelPadding": -5}}
},
"spacing": {"row": 12, "column": 12},
"spec": {
  "width": 142, "height": 132,
  "layer": [
    {"transform": [{"filter": "datum.t == 1"}],
     "mark": {"type": "rule", "color": "black", "strokeWidth": 1},
     "encoding": {
       "x": {"field": "x", "type": "quantitative", "scale": {"domain": [-0.05, 1.05], "nice": false, "zero": false}},
       "y": {"field": "y", "type": "quantitative", "scale": {"domain": [-0.05, 1.05], "nice": false, "zero": false}},
       "x2": {"field": "x2"}, "y2": {"field": "y2"}}},
    {"transform": [{"filter": "datum.t != 1"}],
     "mark": {"type": "circle", "size": 24, "opacity": 0.6},
     "encoding": {
       "x": {"field": "x", "type": "quantitative"},
       "y": {"field": "y", "type": "quantitative"},
       "color": {"field": "Population", "type": "nominal",
         "scale": {"domain": ["Africa","America","Central Asia and Siberia","East Asia","Oceania","South Asia","West Eurasia"], "range": ["#F8766D","#C49A00","#53B400","#00C094","#00B6EB","#A58AFF","#FB61D7"]},
         "legend": {"orient": "none", "legendX": 610, "legendY": 141, "title": "Population", "titleFontSize": 16, "titleFont": "Liberation Sans", "titleFontWeight": "normal", "titleColor": "black", "labelFontSize": 12, "labelFont": "Liberation Sans", "labelColor": "black", "symbolType": "circle", "symbolSize": 20, "symbolOpacity": 0.7, "rowPadding": 2.3, "titlePadding": 4}}}}
  ]
},
"config": {
  "view": {"stroke": "#a0a0a0", "strokeWidth": 1},
  "axis": {"labels": false, "ticks": false, "domain": false, "title": null, "grid": true, "gridColor": "#ebebeb", "gridWidth": 1, "values": [0, 0.125, 0.25, 0.375, 0.5, 0.625, 0.75, 0.875, 1]}
}
}
